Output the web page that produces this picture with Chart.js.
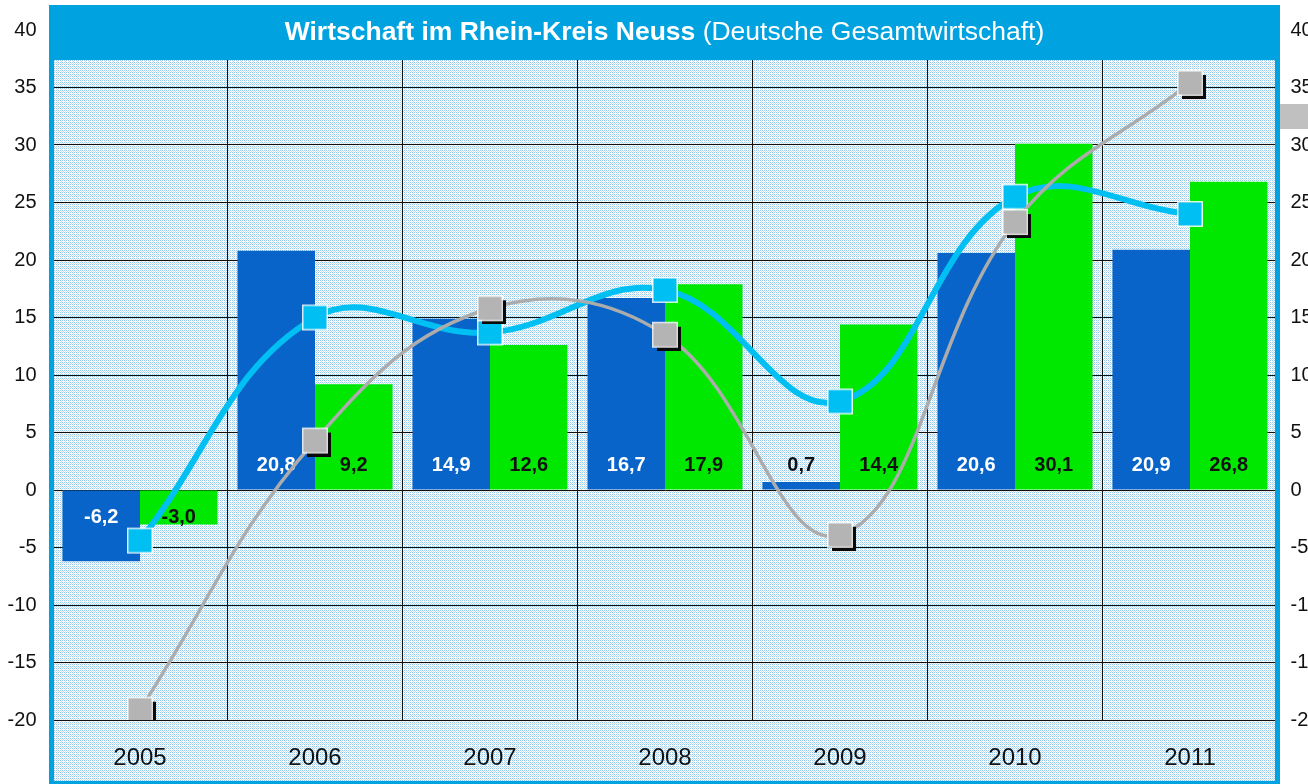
<!DOCTYPE html>
<html>
<head>
<meta charset="utf-8">
<script src="https://cdn.jsdelivr.net/npm/chart.js@4/dist/chart.umd.min.js"></script>
<style>
    body { margin: 0; background: #fff; }
    #wrap { width: 1308px; height: 784px; }
</style>
</head>
<body>
<div id="wrap"><canvas id="chart" width="1308" height="784"></canvas></div>
<script>
const years = ["2005", "2006", "2007", "2008", "2009", "2010", "2011"];
const kreisValues = [-6.2, 20.8, 14.9, 16.7, 0.7, 20.6, 20.9];
const deutschValues = [-3.0, 9.2, 12.6, 17.9, 14.4, 30.1, 26.8];
const cyanValues = [-4.4, 15.0, 13.7, 17.4, 7.7, 25.5, 24.0];
const grayValues = [-19.1, 4.3, 15.8, 13.5, -3.9, 23.3, 35.4];

const FONT = "'Liberation Sans', Arial, sans-serif";
const C_FRAME = "#00a3e0";
const C_KREIS = "#0864c8";
const C_DEUTSCH = "#00e800";
const C_CYAN = "#00bff3";
const C_GRAY = "#b4b4b4";

Chart.defaults.font.family = FONT;
Chart.defaults.color = "#111";

// dotted light blue background like the original
function makePattern(ctx) {
    const p = document.createElement("canvas");
    p.width = 4; p.height = 4;
    const pc = p.getContext("2d");
    pc.fillStyle = "#fff";
    pc.fillRect(0, 0, 4, 4);
    pc.fillStyle = "#95c9ec";
    [[0, 0], [2, 0], [0, 2], [2, 2]].forEach(([x, y]) => pc.fillRect(x, y, 1, 1));
    pc.fillStyle = "#c6e2f6";
    [[1, 1], [3, 3], [1, 3]].forEach(([x, y]) => pc.fillRect(x, y, 1, 1));
    return ctx.createPattern(p, "repeat");
}

function makeMarker(fill, shadow) {
    const c = document.createElement("canvas");
    c.width = 32; c.height = 32;
    const g = c.getContext("2d");
    if (shadow) {
        g.fillStyle = "#0a0a0a";
        g.fillRect(8, 8, 24, 24);
    }
    g.fillStyle = "rgba(255,255,255,0.85)";
    g.fillRect(3, 3, 26, 26);
    g.fillStyle = fill;
    g.fillRect(4.5, 4.5, 23, 23);
    return c;
}

const fmt = v => v.toFixed(1).replace(".", ",");

const frame = {
    id: "frame",
    beforeDraw(chart) {
        const ctx = chart.ctx;
        ctx.save();
        ctx.fillStyle = makePattern(ctx);
        ctx.fillRect(54, 60, 1221, 722);
        ctx.restore();
    },
    afterDatasetDraw(chart, args) {
        if (args.meta.type !== "bar") return;
        const ctx = chart.ctx;
        const data = chart.data.datasets[args.index].data;
        const zero = chart.scales.y.getPixelForValue(0);
        ctx.save();
        ctx.font = "bold 20px " + FONT;
        ctx.textAlign = "center";
        ctx.textBaseline = "middle";
        args.meta.data.forEach((bar, i) => {
            const v = data[i];
            let color = args.index === 0 ? "#fff" : "#111";
            if (Math.abs(v) < 3) color = "#111";
            ctx.fillStyle = color;
            ctx.fillText(fmt(v), bar.x, v >= 0 ? zero - 25 : zero + 27);
        });
        ctx.restore();
    },
    afterDraw(chart) {
        const ctx = chart.ctx;
        ctx.save();
        ctx.fillStyle = C_FRAME;
        ctx.fillRect(49, 5, 1231, 55);
        ctx.fillRect(49, 5, 5, 779);
        ctx.fillRect(1275, 5, 5, 779);
        ctx.fillRect(49, 781, 1231, 3);
        // legend fragment at the right edge
        ctx.fillStyle = "#c0c0c0";
        ctx.fillRect(1280, 104, 28, 25);

        const bold = "Wirtschaft im Rhein-Kreis Neuss";
        const rest = " (Deutsche Gesamtwirtschaft)";
        ctx.font = "bold 26.5px " + FONT;
        const w1 = ctx.measureText(bold).width;
        ctx.font = "26.5px " + FONT;
        const w2 = ctx.measureText(rest).width;
        const x0 = 664.5 - (w1 + w2) / 2;
        ctx.fillStyle = "#fff";
        ctx.textBaseline = "middle";
        ctx.textAlign = "left";
        ctx.font = "bold 26.5px " + FONT;
        ctx.fillText(bold, x0, 33);
        ctx.font = "26.5px " + FONT;
        ctx.fillText(rest, x0 + w1, 33);
        ctx.restore();
    }
};

const ctx = document.getElementById("chart").getContext("2d");
new Chart(ctx, {
    type: "bar",
    data: {
        labels: years,
        datasets: [
            {
                label: "Rhein-Kreis Neuss",
                data: kreisValues,
                backgroundColor: C_KREIS,
                categoryPercentage: 0.886,
                barPercentage: 1,
                order: 2
            },
            {
                label: "Deutschland",
                data: deutschValues,
                backgroundColor: C_DEUTSCH,
                categoryPercentage: 0.886,
                barPercentage: 1,
                order: 3
            },
            {
                type: "line",
                label: "Linie 1",
                data: cyanValues,
                borderColor: C_CYAN,
                borderWidth: 6,
                tension: 0.4,
                pointStyle: makeMarker(C_CYAN, false),
                order: 1
            },
            {
                type: "line",
                label: "Linie 2",
                data: grayValues,
                borderColor: "#acacac",
                borderWidth: 3.5,
                tension: 0.4,
                pointStyle: makeMarker(C_GRAY, true),
                order: 0
            },
        ],
    },
    options: {
        responsive: false,
        animation: false,
        layout: { padding: { top: 30, left: 0, right: 0, bottom: 0 } },
        plugins: {
            legend: { display: false },
            tooltip: { enabled: false },
        },
        scales: {
            x: {
                grid: { color: "#111", drawTicks: false, offset: true },
                border: { display: false },
                ticks: { font: { size: 24 }, padding: 24, color: "#111" },
                afterFit: s => { s.height = 64; },
            },
            y: {
                position: "left",
                min: -20,
                max: 40,
                grid: { color: "#111", drawTicks: false },
                border: { display: false },
                ticks: { stepSize: 5, font: { size: 20 }, padding: 16, color: "#111" },
                afterFit: s => { s.width = 52.5; },
            },
            y2: {
                position: "right",
                min: -20,
                max: 40,
                grid: { display: false, drawTicks: false },
                border: { display: false },
                ticks: { stepSize: 5, font: { size: 20 }, padding: 13, color: "#111" },
                afterFit: s => { s.width = 30.5; },
            },
        },
    },
    plugins: [frame],
});
</script>
</body>
</html>
